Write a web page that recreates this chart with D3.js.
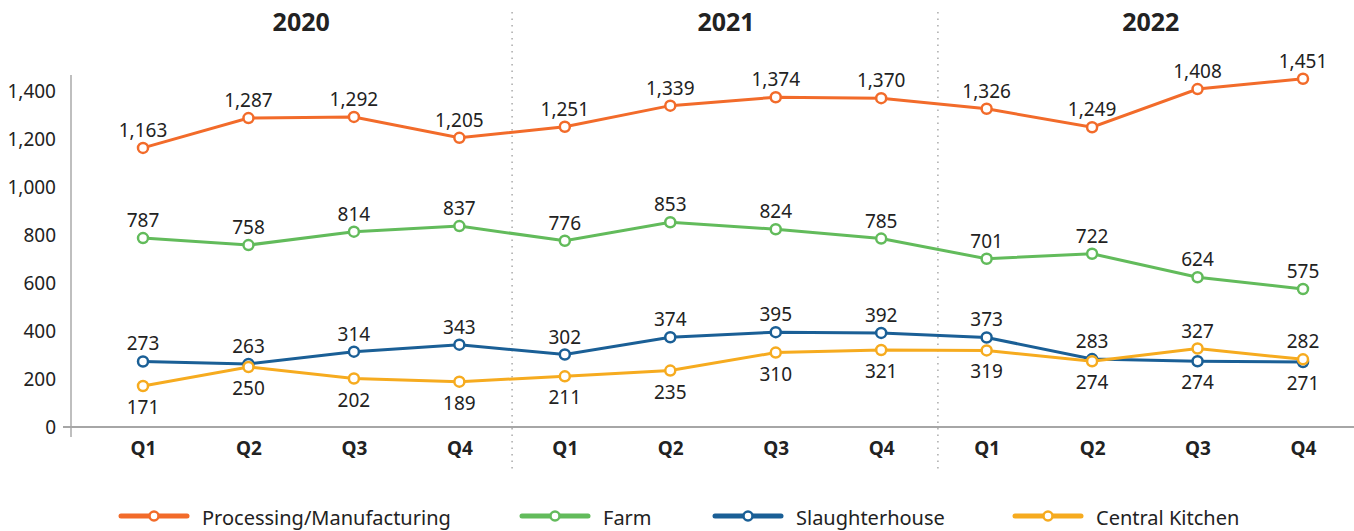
<!DOCTYPE html>
<html>
<head>
<meta charset="utf-8">
<script src="https://cdn.jsdelivr.net/npm/d3@7"></script>
<style>
  body { margin: 0; background: #fff; }
  text { font-family: "Fira Sans", "Noto Sans", sans-serif; fill: #222; }
</style>
</head>
<body>
<svg id="chart"></svg>
<script>
var w = 1354, h = 531;

var years = ["2020", "2021", "2022"];
var quarters = ["Q1", "Q2", "Q3", "Q4"];
var yTicks = [0, 200, 400, 600, 800, 1000, 1200, 1400];

var processing = [1163, 1287, 1292, 1205, 1251, 1339, 1374, 1370, 1326, 1249, 1408, 1451];
var farm = [787, 758, 814, 837, 776, 853, 824, 785, 701, 722, 624, 575];
var slaughter = [273, 263, 314, 343, 302, 374, 395, 392, 373, 283, 274, 271];
var kitchen = [171, 250, 202, 189, 211, 235, 310, 321, 319, 274, 327, 282];

var seriesNames = ["Processing/Manufacturing", "Farm", "Slaughterhouse", "Central Kitchen"];
var seriesColors = ["#f26b2a", "#62bb5b", "#1a5f96", "#f6ab1f"];

// keys for each quarter point
var keys = [];
years.forEach(function(y) {
    quarters.forEach(function(q) { keys.push(y + "-" + q) })
})

var series = [
    {name: seriesNames[0], color: seriesColors[0], values: processing},
    {name: seriesNames[1], color: seriesColors[1], values: farm},
    {name: seriesNames[2], color: seriesColors[2], values: slaughter},
    {name: seriesNames[3], color: seriesColors[3], values: kitchen}
]

var svg = d3.select("#chart")
    .attr("width", w)
    .attr("height", h)

var x = d3.scalePoint()
    .domain(keys)
    .range([143, 1303])

var y = d3.scaleLinear()
    .domain([0, 1400])
    .range([427, 91])

var step = x.step()

// year separators (dotted)
for (var i = 1; i < years.length; i++) {
    var sx = x(keys[i * 4 - 1]) + step / 2 + (i - 1) * 4
    svg.append("line")
        .attr("x1", sx).attr("x2", sx)
        .attr("y1", 12).attr("y2", 470)
        .attr("stroke", "#aaa")
        .attr("stroke-width", 1.5)
        .attr("stroke-dasharray", "1.5,5")
}

// year titles
svg.selectAll("text.year")
    .data(years)
    .enter().append("text")
    .attr("class", "year")
    .attr("x", function(d, i) { return (x(keys[i * 4]) + x(keys[i * 4 + 3])) / 2 + i * 3 })
    .attr("y", 31)
    .attr("text-anchor", "middle")
    .attr("font-size", 25)
    .attr("font-weight", "bold")
    .style("font-family", "'Noto Sans', sans-serif")
    .text(function(d) { return d })

// y axis
var yAxis = svg.append("g")
    .attr("transform", "translate(71,0)")
    .call(d3.axisLeft(y).tickValues(yTicks).tickSize(0).tickPadding(15).tickFormat(d3.format(",")))
yAxis.select(".domain").remove()
yAxis.selectAll("text")
    .attr("font-size", 19)
    .style("font-family", "'Noto Sans', sans-serif")
    .attr("fill", "#222")

svg.append("line")
    .attr("x1", 71).attr("x2", 71)
    .attr("y1", 75).attr("y2", 437)
    .attr("stroke", "#aaa").attr("stroke-width", 1.5)

// x axis
var xAxis = svg.append("g")
    .attr("transform", "translate(0,427)")
    .call(d3.axisBottom(x).tickSize(0).tickPadding(15).tickFormat(function(d) { return d.split("-")[1] }))
xAxis.select(".domain").remove()
xAxis.selectAll("text")
    .attr("font-size", 19)
    .attr("font-weight", "bold")
    .style("font-family", "'Noto Sans', sans-serif")
    .attr("fill", "#222")

svg.append("line")
    .attr("x1", 63).attr("x2", w)
    .attr("y1", 427).attr("y2", 427)
    .attr("stroke", "#a6a6a6").attr("stroke-width", 2)

var line = d3.line()
    .x(function(d, i) { return x(keys[i]) })
    .y(function(d) { return y(d) })

var groups = svg.selectAll("g.series")
    .data(series)
    .enter().append("g")
    .attr("class", "series")

groups.append("path")
    .attr("d", function(d) { return line(d.values) })
    .attr("fill", "none")
    .attr("stroke", function(d) { return d.color })
    .attr("stroke-width", 3)

groups.selectAll("circle")
    .data(function(d) { return d.values.map(function(v, i) { return {v: v, i: i, color: d.color} }) })
    .enter().append("circle")
    .attr("cx", function(d) { return x(keys[d.i]) })
    .attr("cy", function(d) { return y(d.v) })
    .attr("r", 5)
    .attr("fill", "#fff")
    .attr("stroke", function(d) { return d.color })
    .attr("stroke-width", 2.5)

// data labels: the two low series share space, the higher one goes above
var labelAbove = function(si, i) {
    if (si < 2) return true
    if (si == 2) return slaughter[i] >= kitchen[i]
    return kitchen[i] > slaughter[i]
}

groups.each(function(s, si) {
    d3.select(this).selectAll("text.lbl")
        .data(s.values)
        .enter().append("text")
        .attr("class", "lbl")
        .attr("x", function(d, i) { return x(keys[i]) })
        .attr("y", function(d, i) { return y(d) + (labelAbove(si, i) ? -11 : 28) })
        .attr("text-anchor", "middle")
        .attr("font-size", 19)
        .style("font-family", "'Noto Sans', sans-serif")
        .text(function(d) { return d3.format(",")(d) })
})

// legend
var legendX = [121, 522, 715, 1015]
var legend = svg.selectAll("g.legend")
    .data(series)
    .enter().append("g")
    .attr("class", "legend")
    .attr("transform", function(d, i) { return "translate(" + [legendX[i], 516] + ")" })

legend.append("line")
    .attr("x1", 0).attr("x2", 66)
    .attr("stroke", function(d) { return d.color })
    .attr("stroke-width", 5)
    .attr("stroke-linecap", "round")
legend.append("circle")
    .attr("cx", 33).attr("r", 4.5)
    .attr("fill", "#fff")
    .attr("stroke", function(d) { return d.color })
    .attr("stroke-width", 2.5)
legend.append("text")
    .attr("x", 81)
    .attr("y", 9)
    .attr("font-size", 20)
    .style("font-family", "'Noto Sans', sans-serif")
    .text(function(d) { return d.name })
</script>
</body>
</html>
